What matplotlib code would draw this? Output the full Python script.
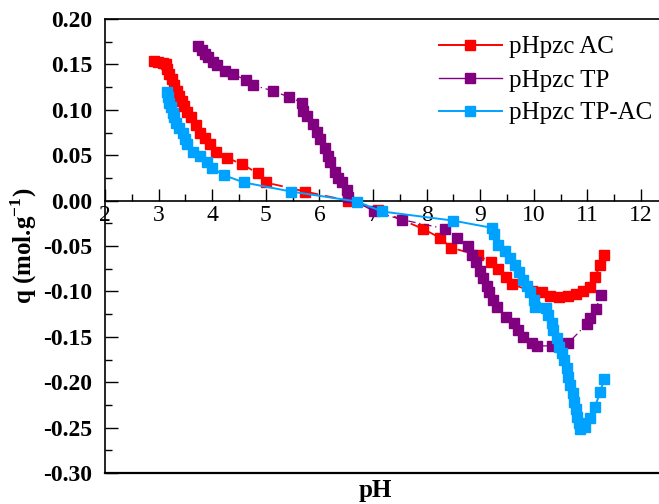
import matplotlib
matplotlib.use("Agg")
import matplotlib.pyplot as plt
from matplotlib.lines import Line2D

plt.rcParams['font.family'] = ['Liberation Serif', 'DejaVu Serif']
plt.rcParams['mathtext.fontset'] = 'custom'
plt.rcParams['mathtext.rm'] = 'Liberation Serif'
plt.rcParams['mathtext.bf'] = 'Liberation Serif:bold'

# ---- data ----
ac_ph = [2.91, 2.99, 3.08, 3.14, 3.16, 3.19, 3.25, 3.29, 3.34, 3.38, 3.44, 3.47, 3.53,
         3.60, 3.70, 3.77, 3.87, 3.96, 4.07, 4.28, 4.56, 4.85, 5.00, 5.73, 6.53, 7.09,
         7.93, 8.25, 8.46, 8.96, 9.20, 9.33, 9.48, 9.59, 9.97, 10.15, 10.30, 10.47,
         10.64, 10.79, 10.92, 11.05, 11.14, 11.24, 11.31]
ac_q = [0.154, 0.153, 0.152, 0.150, 0.145, 0.139, 0.134, 0.127, 0.121, 0.115, 0.110,
        0.104, 0.098, 0.092, 0.083, 0.075, 0.069, 0.062, 0.054, 0.047, 0.040, 0.030,
        0.020, 0.010, 0.000, -0.010, -0.031, -0.041, -0.052, -0.060, -0.068, -0.075,
        -0.084, -0.092, -0.100, -0.101, -0.105, -0.106, -0.105, -0.103, -0.100,
        -0.095, -0.084, -0.071, -0.060]

tp_ph = [3.74, 3.81, 3.87, 3.92, 4.01, 4.09, 4.24, 4.39, 4.63, 4.76, 5.13, 5.43, 5.68,
         5.69, 5.77, 5.88, 5.96, 6.01, 6.10, 6.16, 6.20, 6.29, 6.35, 6.42, 6.51, 6.53,
         7.02, 7.54, 8.34, 8.57, 8.77, 8.85, 8.92, 9.00, 9.05, 9.13, 9.16, 9.24, 9.31,
         9.48, 9.63, 9.71, 9.80, 9.97, 10.06, 10.34, 10.64, 10.99, 11.05, 11.16, 11.25]
tp_q = [0.170, 0.166, 0.161, 0.158, 0.153, 0.149, 0.143, 0.139, 0.133, 0.127, 0.121,
        0.114, 0.108, 0.099, 0.093, 0.084, 0.076, 0.068, 0.058, 0.049, 0.042, 0.032,
        0.025, 0.020, 0.012, 0.004, -0.012, -0.021, -0.031, -0.041, -0.050, -0.060,
        -0.068, -0.077, -0.085, -0.094, -0.101, -0.109, -0.117, -0.128, -0.135,
        -0.142, -0.150, -0.157, -0.160, -0.160, -0.157, -0.136, -0.129, -0.119, -0.104]

tpac_ph = [3.16, 3.18, 3.19, 3.23, 3.27, 3.29, 3.32, 3.38, 3.46, 3.49, 3.53, 3.64, 3.77,
           3.90, 4.00, 4.22, 4.59, 5.47, 6.70, 7.17, 8.49, 9.22, 9.26, 9.33, 9.46, 9.56,
           9.65, 9.72, 9.80, 9.87, 9.93, 10.00, 10.02, 10.23, 10.26, 10.34, 10.36,
           10.43, 10.47, 10.53, 10.56, 10.62, 10.64, 10.68, 10.73, 10.75, 10.79, 10.81,
           10.84, 10.86, 10.96, 11.05, 11.14, 11.24, 11.31]
tpac_q = [0.120, 0.114, 0.108, 0.103, 0.097, 0.092, 0.086, 0.080, 0.074, 0.068, 0.062,
          0.054, 0.049, 0.043, 0.036, 0.028, 0.020, 0.010, -0.001, -0.012, -0.022,
          -0.030, -0.037, -0.049, -0.056, -0.063, -0.071, -0.079, -0.087, -0.094,
          -0.101, -0.109, -0.117, -0.118, -0.126, -0.135, -0.142, -0.151, -0.161,
          -0.168, -0.175, -0.184, -0.194, -0.203, -0.212, -0.222, -0.230, -0.238,
          -0.245, -0.252, -0.249, -0.239, -0.227, -0.211, -0.196]

labels = ['pHpzc AC', 'pHpzc TP', 'pHpzc TP-AC']
colors = ['#FF0000', '#800080', '#00A2FF']
x_ticks = [2, 3, 4, 5, 6, 7, 8, 9, 10, 11, 12]
y_ticks = [0.20, 0.15, 0.10, 0.05, 0.00, -0.05, -0.10, -0.15, -0.20, -0.25, -0.30]

# ---- figure ----
fig = plt.figure(figsize=(6.59, 5.04), dpi=100)
W, H = 659, 504
left_px, right_px, top_px, bot_px = 105, 105 + 10.5 * 53.6, 19, 473
ax = fig.add_axes([left_px / W, 1 - bot_px / H, (right_px - left_px) / W, (bot_px - top_px) / H])

ms = 7.4
ax.plot(ac_ph, ac_q, color=colors[0], marker='s', ms=ms, lw=1.3, ls=(0, (6, 4)),
        clip_on=False, zorder=3)
ax.plot(tp_ph, tp_q, color=colors[1], marker='s', ms=ms, lw=0.9, ls=(0, (6, 3, 1, 3)),
        clip_on=False, zorder=3)
ax.plot(tpac_ph, tpac_q, color=colors[2], marker='s', ms=ms, lw=1.4, ls='-',
        clip_on=False, zorder=3)

ax.set_xlim(2, 12.5)
ax.set_ylim(-0.30, 0.20)

# spines
ax.spines['right'].set_visible(False)
ax.spines['bottom'].set_position(('data', 0))
for s in ['left', 'bottom', 'top']:
    ax.spines[s].set_linewidth(1.2)
ax.plot([0, 1], [0, 0], transform=ax.transAxes, color='black', lw=1.6, clip_on=False)

ax.set_xticks(x_ticks)
ax.set_xticks([v + 0.5 for v in x_ticks], minor=True)
ax.set_yticks(y_ticks)
ax.set_yticks([v + 0.025 for v in y_ticks[1:]], minor=True)
ax.set_yticklabels(['%.2f' % v for v in y_ticks], fontweight='bold')
ax.tick_params(axis='both', which='major', direction='in', length=9, width=1.0, labelsize=17)
ax.tick_params(axis='both', which='minor', direction='in', length=5, width=1.0)
ax.tick_params(axis='x', pad=3, top=False)
ax.tick_params(axis='x', which='minor', top=False)
ax.tick_params(axis='y', pad=9, right=False)
ax.tick_params(axis='y', which='minor', right=False)

ax.set_ylabel('q (mol.g$^{\\mathbf{-1}}$)', fontsize=18, fontweight='bold', labelpad=3)
fig.text(375 / W, 1 - 491 / H, 'pH', fontsize=18, fontweight='bold', ha='center', va='center')

handles = [Line2D([], [], color=c, marker='s', ms=ms, lw=1.4 if i != 1 else 1.0)
           for i, c in enumerate(colors)]
leg = ax.legend(handles, labels, loc='upper left', bbox_to_anchor=(439 / W, 1 - 36 / H),
                bbox_transform=fig.transFigure, frameon=False, fontsize=18,
                handlelength=2.5, handletextpad=0.3, labelspacing=0.42, borderaxespad=0,
                borderpad=0)

fig.savefig('out.png', dpi=100)
